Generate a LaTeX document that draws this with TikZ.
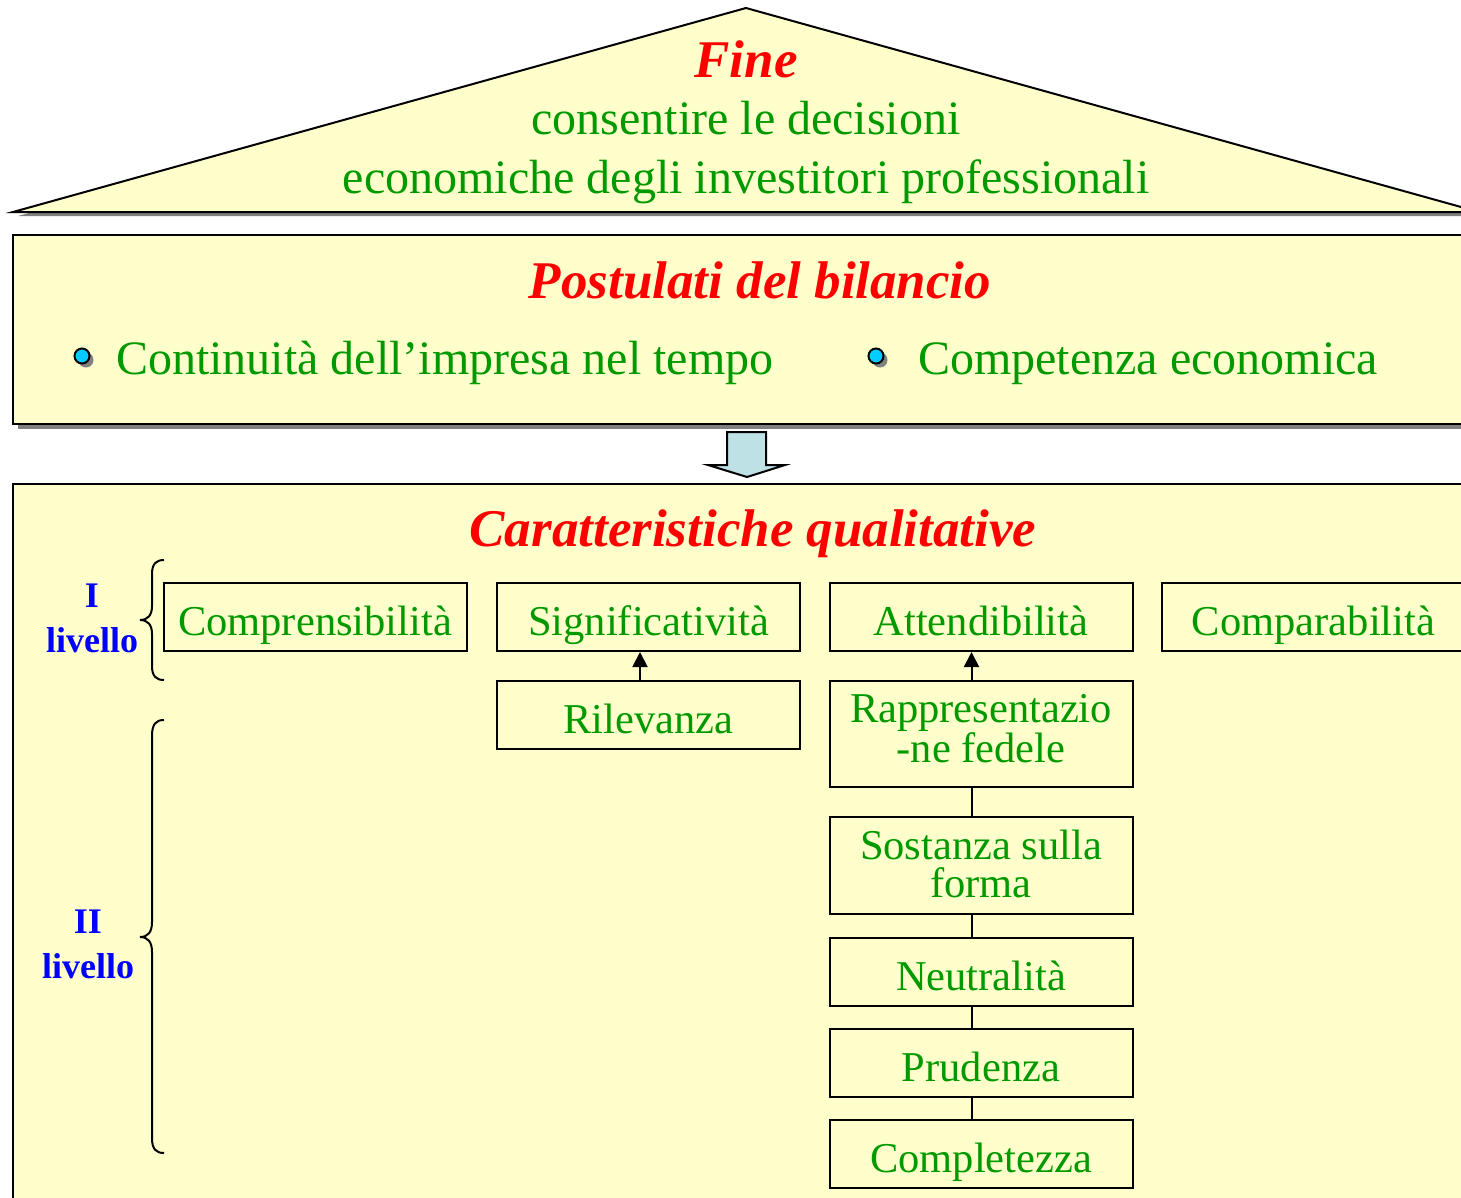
\documentclass[tikz,border=0pt]{standalone}
\usepackage{fontspec}
\setmainfont{Liberation Serif}
\usetikzlibrary{arrows.meta}
\definecolor{bg}{RGB}{255,255,204}
\definecolor{txtgreen}{RGB}{0,153,0}
\definecolor{ttlred}{RGB}{255,0,0}
\definecolor{lvlblue}{RGB}{0,0,255}
\definecolor{shadowgray}{RGB}{128,128,128}
\definecolor{arrowblue}{RGB}{190,225,230}
\definecolor{bulletcyan}{RGB}{0,204,255}
\begin{document}
\begin{tikzpicture}[x=1pt,y=-1pt,
  titletext/.style={anchor=base, inner sep=0pt, text=ttlred, font=\fontsize{53}{60}\selectfont\bfseries\itshape},
  bodytext/.style={anchor=base, inner sep=0pt, text=txtgreen, font=\fontsize{48}{56}\selectfont},
  charbox/.style={draw, line width=2pt, fill=bg, minimum width=303pt, minimum height=68pt, inner sep=0pt, text height=36pt, text depth=0pt, text=txtgreen, align=center, font=\fontsize{42.5}{37.5}\selectfont},
  leveltext/.style={anchor=base, inner sep=0pt, text=lvlblue, align=center, font=\fontsize{36}{45}\selectfont\bfseries},
  outline/.style={draw, line width=2pt, fill=bg},
  shadowfill/.style={fill=shadowgray, draw=none},
  bulletdot/.style={circle, draw, line width=2pt, fill=bulletcyan, minimum size=15pt, inner sep=0pt},
  bulletshadow/.style={circle, fill=shadowgray, minimum size=15pt, inner sep=0pt},
  link/.style={line width=2pt},
  uparrow/.style={line width=2pt, -{Triangle[length=15pt,width=15pt]}},
  bracepath/.style={line width=2pt}
]
\useasboundingbox (0,0) rectangle (1461,1197);
\clip (0,0) rectangle (1461,1197);

% roof
\fill[shadowgray] (751,12) -- (18,216) -- (1484,216) -- cycle;
\draw[outline] (746,8) -- (13,212) -- (1479,212) -- cycle;
\node[titletext] (fine) at (746,77) {Fine};
\node[bodytext] (fine1) at (746,134) {consentire le decisioni};
\node[bodytext] (fine2) at (746,193) {economiche degli investitori professionali};

% postulati
\fill[shadowgray] (18,240) rectangle (1480,429);
\draw[outline] (13,235) rectangle (1475,424);
\node[titletext] (post) at (760,298) {Postulati del bilancio};
\node[bulletshadow] (bul1s) at (86,360) {};
\node[bulletdot] (bul1) at (82,356) {};
\node[bodytext, anchor=base west] (cont) at (116,374) {Continuità dell’impresa nel tempo};
\node[bulletshadow] (bul2s) at (880,360) {};
\node[bulletdot] (bul2) at (876,356) {};
\node[bodytext, anchor=base west] (comp) at (918,374) {Competenza economica};

% block arrow
\draw[line width=2pt, fill=arrowblue, line join=miter]
  (727,432) -- (766,432) -- (766,465) -- (785,465) -- (747,477) -- (708,465) -- (727,465) -- cycle;

% caratteristiche
\draw[outline] (13,484) rectangle (1475,1215);
\node[titletext] (car) at (753,546) {Caratteristiche qualitative};

% level labels and braces
\node[leveltext] (lv1) at (92,652) {I\\livello};
\node[leveltext] (lv2) at (88,978) {II\\livello};
\draw[bracepath] (164,560) .. controls (156,560) and (152,564) .. (152,574) -- (152,606)
  .. controls (152,615) and (148,620) .. (140,620)
  .. controls (148,620) and (152,625) .. (152,634) -- (152,666)
  .. controls (152,676) and (156,680) .. (164,680);
\draw[bracepath] (164,720) .. controls (156,720) and (152,724) .. (152,736) -- (152,922)
  .. controls (152,932) and (148,937) .. (140,937)
  .. controls (148,937) and (152,942) .. (152,952) -- (152,1138)
  .. controls (152,1149) and (156,1153) .. (164,1153);

% boxes level I
\node[charbox] (cmp) at (315,617) {Comprensibilità};
\node[charbox] (sig) at (648.5,617) {Significatività};
\node[charbox] (att) at (981,617) {Attendibilità};
\node[charbox] (cpb) at (1313.5,617) {Comparabilità};

% boxes level II
\node[charbox] (ril) at (648.5,715) {Rilevanza};
\node[charbox, minimum height=106pt, text height=74pt, text depth=18pt] (rap) at (981,734) {Rappresentazio\\-ne fedele};
\node[charbox, minimum height=97pt, text height=75pt, text depth=12pt] (sost) at (981,865.5) {Sostanza sulla\\forma};
\node[charbox] (neu) at (981,972) {Neutralità};
\node[charbox] (pru) at (981,1063) {Prudenza};
\node[charbox] (cpl) at (981,1154) {Completezza};

% connectors
\draw[uparrow] ([xshift=144pt]ril.north west) -- ([xshift=144pt]sig.south west);
\draw[uparrow] ([xshift=143pt]rap.north west) -- ([xshift=143pt]att.south west);
\draw[link] ([xshift=143pt]rap.south west) -- ([xshift=143pt]sost.north west);
\draw[link] ([xshift=143pt]sost.south west) -- ([xshift=143pt]neu.north west);
\draw[link] ([xshift=143pt]neu.south west) -- ([xshift=143pt]pru.north west);
\draw[link] ([xshift=143pt]pru.south west) -- ([xshift=143pt]cpl.north west);
\end{tikzpicture}
\end{document}
